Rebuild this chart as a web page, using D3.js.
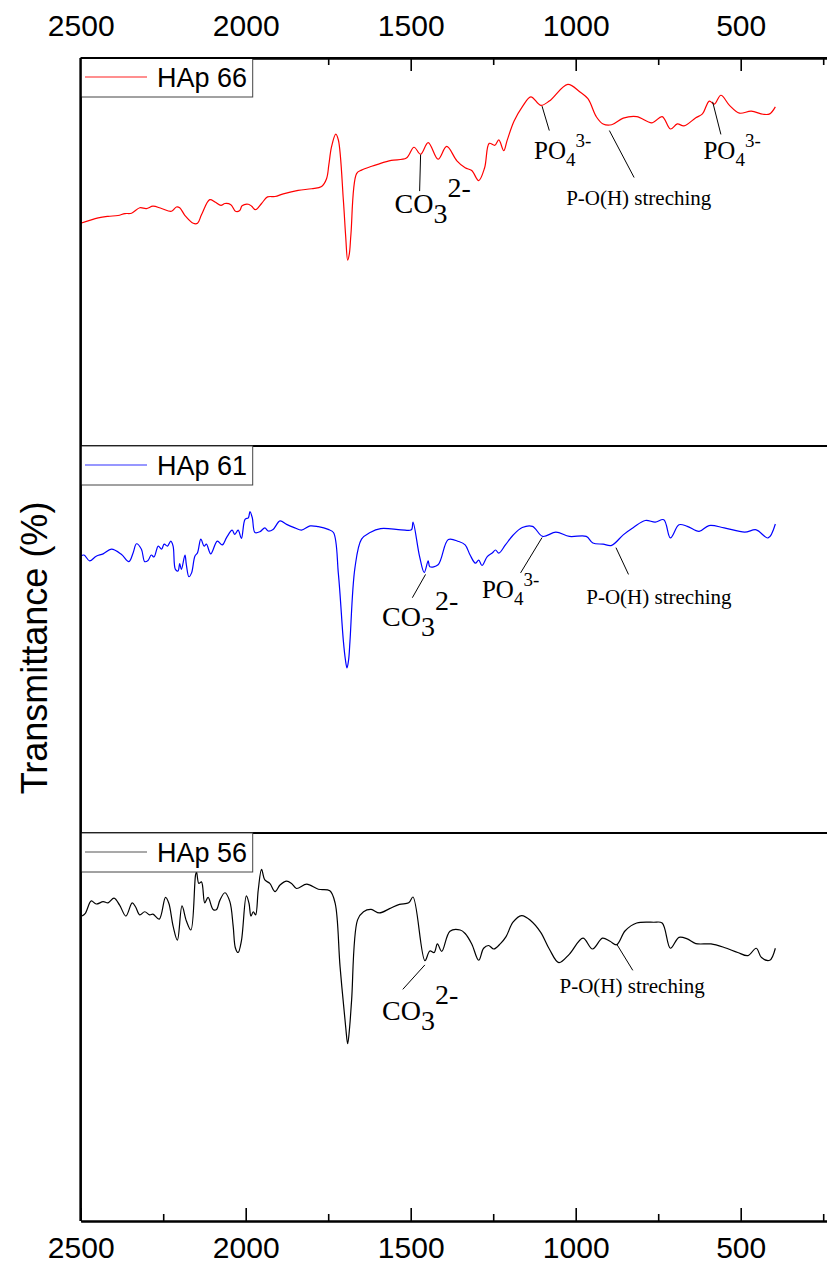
<!DOCTYPE html>
<html>
<head>
<meta charset="utf-8">
<script src="https://cdn.jsdelivr.net/npm/d3@7/dist/d3.min.js"></script>
<style>
  html, body { margin: 0; padding: 0; background: #fff; }
  svg { display: block; }
</style>
</head>
<body>
<svg id="chart" width="827" height="1266"></svg>
<script>
// ---------------- DATA ----------------
const seriesNames = ["HAp 66", "HAp 61", "HAp 56"];
const majorTicks = [2500, 2000, 1500, 1000, 500];
const minorTicks = [2250, 1750, 1250, 750, 250];

// [wavenumber (cm-1), transmittance (a.u., 0-100 within its panel)]
const hap66 = [[2500,57.4],[2447,58.8],[2417,59.2],[2387,59.4],[2366,59.9],[2346,60.0],[2321,61.4],[2301,61.2],[2281,61.8],[2255,61.2],[2225,60.5],[2210,61.6],[2200,61.4],[2184,59.4],[2159,57.4],[2146,57.4],[2134,59.6],[2109,63.5],[2093,62.9],[2075,62.0],[2063,62.5],[2045,62.2],[2031,60.5],[2018,60.7],[2011,61.9],[1992,62.3],[1982,61.8],[1970,60.9],[1952,62.5],[1934,64.2],[1911,64.3],[1886,65.0],[1841,65.9],[1800,66.3],[1770,66.9],[1755,68.9],[1748,72.5],[1740,77.1],[1727,80.4],[1719,78.8],[1704,63.3],[1697,54.0],[1691,47.9],[1686,49.5],[1681,54.7],[1664,70.2],[1649,71.1],[1618,72.1],[1600,72.6],[1559,73.6],[1513,74.2],[1490,77.0],[1470,75.2],[1447,78.2],[1417,73.9],[1391,77.2],[1360,73.5],[1335,71.7],[1315,71.0],[1294,68.4],[1276,71.7],[1262,78.0],[1245,77.5],[1233,78.9],[1218,76.1],[1208,78.7],[1187,83.7],[1162,87.4],[1136,90.0],[1106,87.8],[1080,88.9],[1024,93.2],[988,91.3],[963,89.5],[937,84.8],[917,83.0],[891,82.8],[856,84.5],[815,84.9],[769,83.3],[738,84.9],[713,81.7],[692,83.0],[672,82.5],[636,84.6],[616,85.6],[595,88.9],[580,88.1],[560,90.4],[534,87.8],[504,85.8],[468,86.3],[432,85.5],[412,85.6],[395,87.4]];

const hap61 = [[2500,71.6],[2490,71.9],[2473,70.4],[2453,71.6],[2432,72.2],[2407,73.4],[2377,72.1],[2354,70.2],[2341,72.5],[2331,74.8],[2316,73.4],[2306,70.2],[2296,70.5],[2286,71.9],[2278,71.4],[2265,74.2],[2255,73.4],[2247,74.7],[2237,74.2],[2227,75.5],[2220,74.2],[2213,68.2],[2205,67.8],[2200,69.7],[2195,68.2],[2184,71.9],[2180,69.5],[2172,66.3],[2164,67.3],[2154,71.6],[2146,72.5],[2136,76.0],[2126,74.2],[2119,74.7],[2106,72.2],[2086,75.5],[2071,74.5],[2058,76.4],[2041,78.3],[2033,77.2],[2023,78.3],[2013,76.2],[2002,81.1],[1992,81.5],[1987,83.1],[1980,81.5],[1972,77.7],[1957,77.9],[1942,78.9],[1932,78.1],[1917,78.5],[1896,80.7],[1876,79.8],[1851,78.9],[1831,78.3],[1805,79.4],[1780,79.2],[1750,78.5],[1734,77.7],[1719,66.9],[1704,49.7],[1698,45.0],[1693,42.8],[1688,45.0],[1684,49.7],[1669,68.6],[1649,76.0],[1623,77.7],[1591,78.7],[1529,78.4],[1498,78.4],[1493,80.4],[1473,71.5],[1459,67.4],[1447,70.4],[1442,68.9],[1417,69.4],[1386,75.9],[1355,75.4],[1335,74.5],[1320,71.9],[1304,69.8],[1294,70.6],[1284,69.2],[1268,71.5],[1253,72.4],[1243,73.2],[1233,72.4],[1213,74.5],[1190,77.0],[1162,79.0],[1131,79.3],[1100,76.7],[1060,77.8],[1019,76.7],[968,76.7],[948,75.0],[917,74.7],[891,74.4],[856,77.1],[825,79.0],[789,80.8],[759,80.4],[733,81.0],[713,76.3],[687,79.7],[662,79.3],[626,78.0],[596,79.5],[550,78.9],[488,77.8],[453,78.4],[417,76.3],[395,79.9]];

const hap56 = [[2496,78.6],[2486,79.3],[2468,82.5],[2453,81.7],[2432,82.3],[2417,82.0],[2399,83.2],[2382,81.4],[2363,78.6],[2344,82.0],[2334,81.0],[2321,78.9],[2306,79.7],[2291,78.9],[2281,79.1],[2262,77.8],[2243,83.4],[2233,81.9],[2220,76.0],[2207,72.4],[2193,81.2],[2180,77.4],[2166,75.0],[2152,89.2],[2149,90.0],[2142,87.0],[2134,87.4],[2124,82.0],[2114,83.4],[2099,80.3],[2089,80.2],[2078,82.7],[2063,84.6],[2048,82.3],[2038,76.0],[2031,70.3],[2023,69.2],[2013,72.2],[1998,83.8],[1990,81.9],[1984,78.6],[1977,79.7],[1970,78.9],[1962,85.3],[1952,90.6],[1942,87.9],[1927,87.0],[1911,84.9],[1896,86.6],[1876,87.6],[1861,87.0],[1846,85.7],[1815,86.8],[1780,85.5],[1745,85.1],[1729,81.9],[1714,65.5],[1697,50.0],[1691,45.7],[1685,50.0],[1679,57.0],[1661,77.6],[1643,79.7],[1620,80.3],[1595,79.4],[1564,80.5],[1534,81.6],[1506,82.0],[1493,83.5],[1457,67.1],[1442,69.6],[1429,69.2],[1419,71.4],[1406,69.5],[1381,74.7],[1350,75.0],[1335,74.1],[1315,71.4],[1294,67.2],[1279,70.3],[1264,71.0],[1248,70.1],[1228,71.5],[1211,73.3],[1190,77.0],[1164,78.7],[1136,77.4],[1106,74.4],[1080,70.1],[1051,66.6],[1019,68.8],[978,72.9],[949,70.1],[919,72.9],[896,72.1],[876,71.2],[850,74.8],[815,76.8],[764,77.0],[738,76.8],[713,70.3],[687,73.1],[662,72.7],[636,71.5],[590,71.4],[550,70.5],[509,69.2],[478,68.4],[453,70.3],[437,67.9],[412,67.2],[395,70.3]];

// annotations: panel, label kind, leader line from peak -> end, text start (data coords)
const annotations = [
  {panel:0, kind:"CO3", peak:[1470,75.1], end:[1473,65.7], text:[1549,60.1]},
  {panel:0, kind:"PO4", peak:[1102,87.6], end:[1080,81.3], text:[1126,74.0]},
  {panel:0, kind:"POH", peak:[898,81.3],  end:[823,69.2],  text:[1029,62.1]},
  {panel:0, kind:"PO4", peak:[585,88.7],  end:[560,80.3],  text:[613,74.0]},
  {panel:1, kind:"CO3", peak:[1455,66.9], end:[1495,60.9], text:[1587,53.7]},
  {panel:1, kind:"PO4", peak:[1102,76.4], end:[1167,67.3], text:[1284,60.9]},
  {panel:1, kind:"POH", peak:[878,73.8],  end:[840,66.9],  text:[968,59.4]},
  {panel:2, kind:"CO3", peak:[1457,66.0], end:[1524,59.7], text:[1587,51.9]},
  {panel:2, kind:"POH", peak:[876,71.4],  end:[827,64.6],  text:[1049,58.8]}
];

const seriesData = [hap66, hap61, hap56];
const seriesColors = ["#ff0000", "#0000ff", "#000000"];
const legendColors = ["#ff2020", "#3030ff", "#555555"];

// ---------------- LAYOUT ----------------
const svg = d3.select("#chart");
const left = 80.7, right = 839.7;
const panelTops = [58, 446, 833];
const panelH = 388;
const bottomY = 1221;
const sans = "'Liberation Sans', Arial, Helvetica, sans-serif";
const serif = "'Liberation Serif', 'Times New Roman', serif";

const x = d3.scaleLinear().domain([2500, 200]).range([left, right]);
const yScales = panelTops.map(t => d3.scaleLinear().domain([0, 100]).range([t + panelH, t]));

// curves
const line = d3.line().x(d => x(d[0])).curve(d3.curveCatmullRom.alpha(0.5));
seriesData.forEach((data, i) => {
  line.y(d => yScales[i](d[1]));
  svg.append("path")
    .attr("d", line(data))
    .attr("fill", "none")
    .attr("stroke", seriesColors[i])
    .attr("stroke-width", 1.2)
    .attr("stroke-linejoin", "round");
});

// annotations
annotations.forEach(a => {
  const ys = yScales[a.panel];
  svg.append("line")
    .attr("x1", x(a.peak[0])).attr("y1", ys(a.peak[1]))
    .attr("x2", x(a.end[0])).attr("y2", ys(a.end[1]))
    .attr("stroke", "#000").attr("stroke-width", 1);
  const t = svg.append("text")
    .attr("x", x(a.text[0])).attr("y", ys(a.text[1]))
    .attr("font-family", serif).attr("fill", "#000");
  if (a.kind === "CO3") {
    t.attr("font-size", 28);
    t.append("tspan").text("CO");
    t.append("tspan").attr("dy", 10).text("3");
    t.append("tspan").attr("dy", -26).text("2-");
  } else if (a.kind === "PO4") {
    t.attr("font-size", 25);
    t.append("tspan").text("PO");
    t.append("tspan").attr("dy", 7).attr("font-size", 19).text("4");
    t.append("tspan").attr("dy", -19).attr("font-size", 19).text("3-");
  } else {
    t.attr("font-size", 21).text("P-O(H) streching");
  }
});

// frame lines
svg.append("line").attr("x1", left).attr("x2", left).attr("y1", panelTops[0]).attr("y2", bottomY)
  .attr("stroke", "#000").attr("stroke-width", 2.2);
[panelTops[1], panelTops[2]].forEach(yv => {
  svg.append("line").attr("x1", left).attr("x2", right).attr("y1", yv).attr("y2", yv)
    .attr("stroke", "#000").attr("stroke-width", 2);
});

// axes
function styleAxis(g) {
  g.selectAll("path.domain").attr("stroke", "#000").attr("stroke-width", 2);
  g.selectAll(".tick line").attr("stroke", "#000").attr("stroke-width", 1.6);
  g.selectAll(".tick text").attr("font-family", sans).attr("font-size", 30).attr("fill", "#000");
}
const bottomAxis = d3.axisBottom(x).tickValues(majorTicks).tickSizeInner(-13).tickSizeOuter(0).tickPadding(16).tickFormat(d3.format("d"));
const bottomMinor = d3.axisBottom(x).tickValues(minorTicks).tickSizeInner(-7).tickSizeOuter(0).tickFormat("");
const topAxis = d3.axisTop(x).tickValues(majorTicks).tickSizeInner(-13).tickSizeOuter(0).tickPadding(22).tickFormat(d3.format("d"));
const topMinor = d3.axisTop(x).tickValues(minorTicks).tickSizeInner(-7).tickSizeOuter(0).tickFormat("");

svg.append("g").attr("transform", `translate(0,${bottomY})`).call(bottomMinor).call(styleAxis);
svg.append("g").attr("transform", `translate(0,${bottomY})`).call(bottomAxis).call(styleAxis);
svg.append("g").attr("transform", `translate(0,${panelTops[0]})`).call(topMinor).call(styleAxis);
svg.append("g").attr("transform", `translate(0,${panelTops[0]})`).call(topAxis).call(styleAxis);

// legends
seriesNames.forEach((name, i) => {
  const t = panelTops[i];
  const g = svg.append("g");
  g.append("rect").attr("x", left).attr("y", t).attr("width", 172).attr("height", 39)
    .attr("fill", "#fff").attr("stroke", "#444").attr("stroke-width", 1);
  g.append("line").attr("x1", 85).attr("x2", 147).attr("y1", t + 19).attr("y2", t + 19)
    .attr("stroke", legendColors[i]).attr("stroke-width", 1.2);
  g.append("text").attr("x", 157).attr("y", t + 29).attr("font-family", sans)
    .attr("font-size", 27).attr("fill", "#000").text(name);
});
// redraw left axis over legend boxes
svg.append("line").attr("x1", left).attr("x2", left).attr("y1", panelTops[0]).attr("y2", bottomY)
  .attr("stroke", "#000").attr("stroke-width", 2.2);
svg.append("line").attr("x1", left).attr("x2", right).attr("y1", panelTops[0]).attr("y2", panelTops[0])
  .attr("stroke", "#000").attr("stroke-width", 2);

// y title
svg.append("text")
  .attr("transform", "translate(47,648) rotate(-90)")
  .attr("text-anchor", "middle")
  .attr("font-family", sans).attr("font-size", 36).attr("fill", "#000")
  .text("Transmittance (%)");
</script>
</body>
</html>
